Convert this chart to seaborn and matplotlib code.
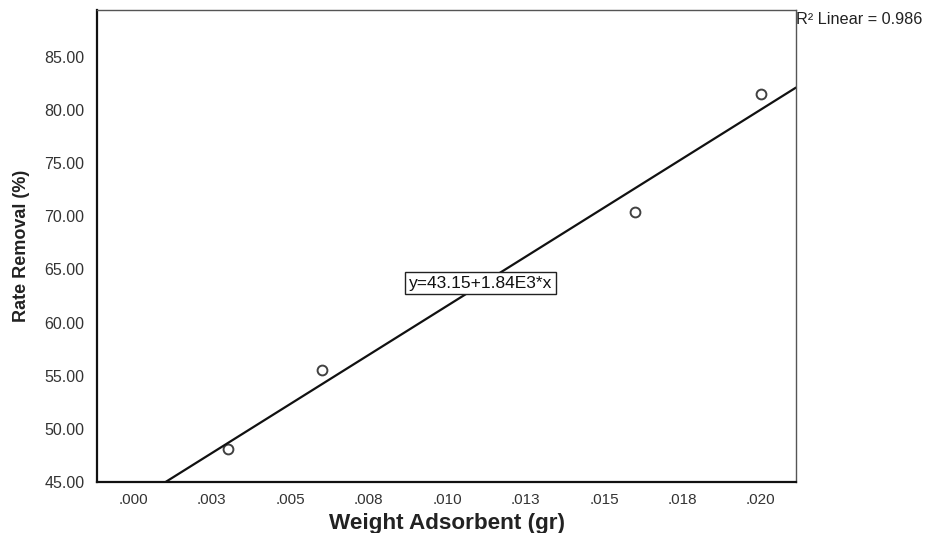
import matplotlib
matplotlib.use("Agg")
import matplotlib.pyplot as plt
import seaborn as sns
import pandas as pd
import numpy as np

# Data
weight_gr = [0.0030, 0.0060, 0.0160, 0.0200]
removal_pct = [48.1, 55.5, 70.4, 81.55]
x_tick_values = [0.0, 0.0025, 0.005, 0.0075, 0.010, 0.0125, 0.015, 0.0175, 0.020]
x_tick_labels = [".000", ".003", ".005", ".008", ".010", ".013", ".015", ".018", ".020"]
y_tick_values = [45, 50, 55, 60, 65, 70, 75, 80, 85]
y_tick_labels = ["45.00", "50.00", "55.00", "60.00", "65.00", "70.00", "75.00", "80.00", "85.00"]
equation_text = "y=43.15+1.84E3*x"
r2_text = "R\u00b2 Linear = 0.986"

df = pd.DataFrame({"Weight Adsorbent (gr)": weight_gr, "Rate Removal (%)": removal_pct})

sns.set_style("white")
plt.rcParams["font.family"] = ["Liberation Sans", "DejaVu Sans"]

fig = plt.figure(figsize=(9.25, 5.33), dpi=100)
ax = fig.add_axes([97/925, 1-482/533, (796-97)/925, (482-10)/533])

ax.set_xlim(-0.00116, 0.02112)
ax.set_ylim(45, 89.42)

sns.regplot(data=df, x="Weight Adsorbent (gr)", y="Rate Removal (%)", ax=ax,
            ci=None, truncate=False,
            scatter_kws=dict(s=50, facecolors="white", edgecolors="#111111", linewidths=1.4, zorder=3),
            line_kws=dict(color="#111111", linewidth=1.6, zorder=2))

ax.set_xlim(-0.00116, 0.02112)
ax.set_ylim(45, 89.42)

ax.set_xticks(x_tick_values)
ax.set_xticklabels(x_tick_labels)
ax.set_yticks(y_tick_values)
ax.set_yticklabels(y_tick_labels)

ax.tick_params(axis="both", which="major", direction="out",
               labelcolor="#333333", color="#111111", width=1.6)
ax.tick_params(axis="x", length=6, pad=2, labelsize=11)
ax.tick_params(axis="y", length=8, pad=1, labelsize=11.5)

for side in ["left", "bottom"]:
    ax.spines[side].set_color("#111111")
    ax.spines[side].set_linewidth(1.6)
for side in ["top", "right"]:
    ax.spines[side].set_color("#555555")
    ax.spines[side].set_linewidth(1.0)

ax.set_xlabel("Weight Adsorbent (gr)", fontsize=16.2, fontweight="bold", color="#222222", labelpad=4)
ax.set_ylabel("Rate Removal (%)", fontsize=13, fontweight="bold", color="#222222", labelpad=10)

ax.text(0.01106, 63.7, equation_text, fontsize=12.5, ha="center", va="center", color="#111111",
        bbox=dict(boxstyle="square,pad=0.2", facecolor="white", edgecolor="#222222", linewidth=1.0),
        zorder=5)

fig.text(796/925, 1-20/533, r2_text, fontsize=11.7, ha="left", va="center", color="#222222")

fig.savefig("out.png", dpi=100)
